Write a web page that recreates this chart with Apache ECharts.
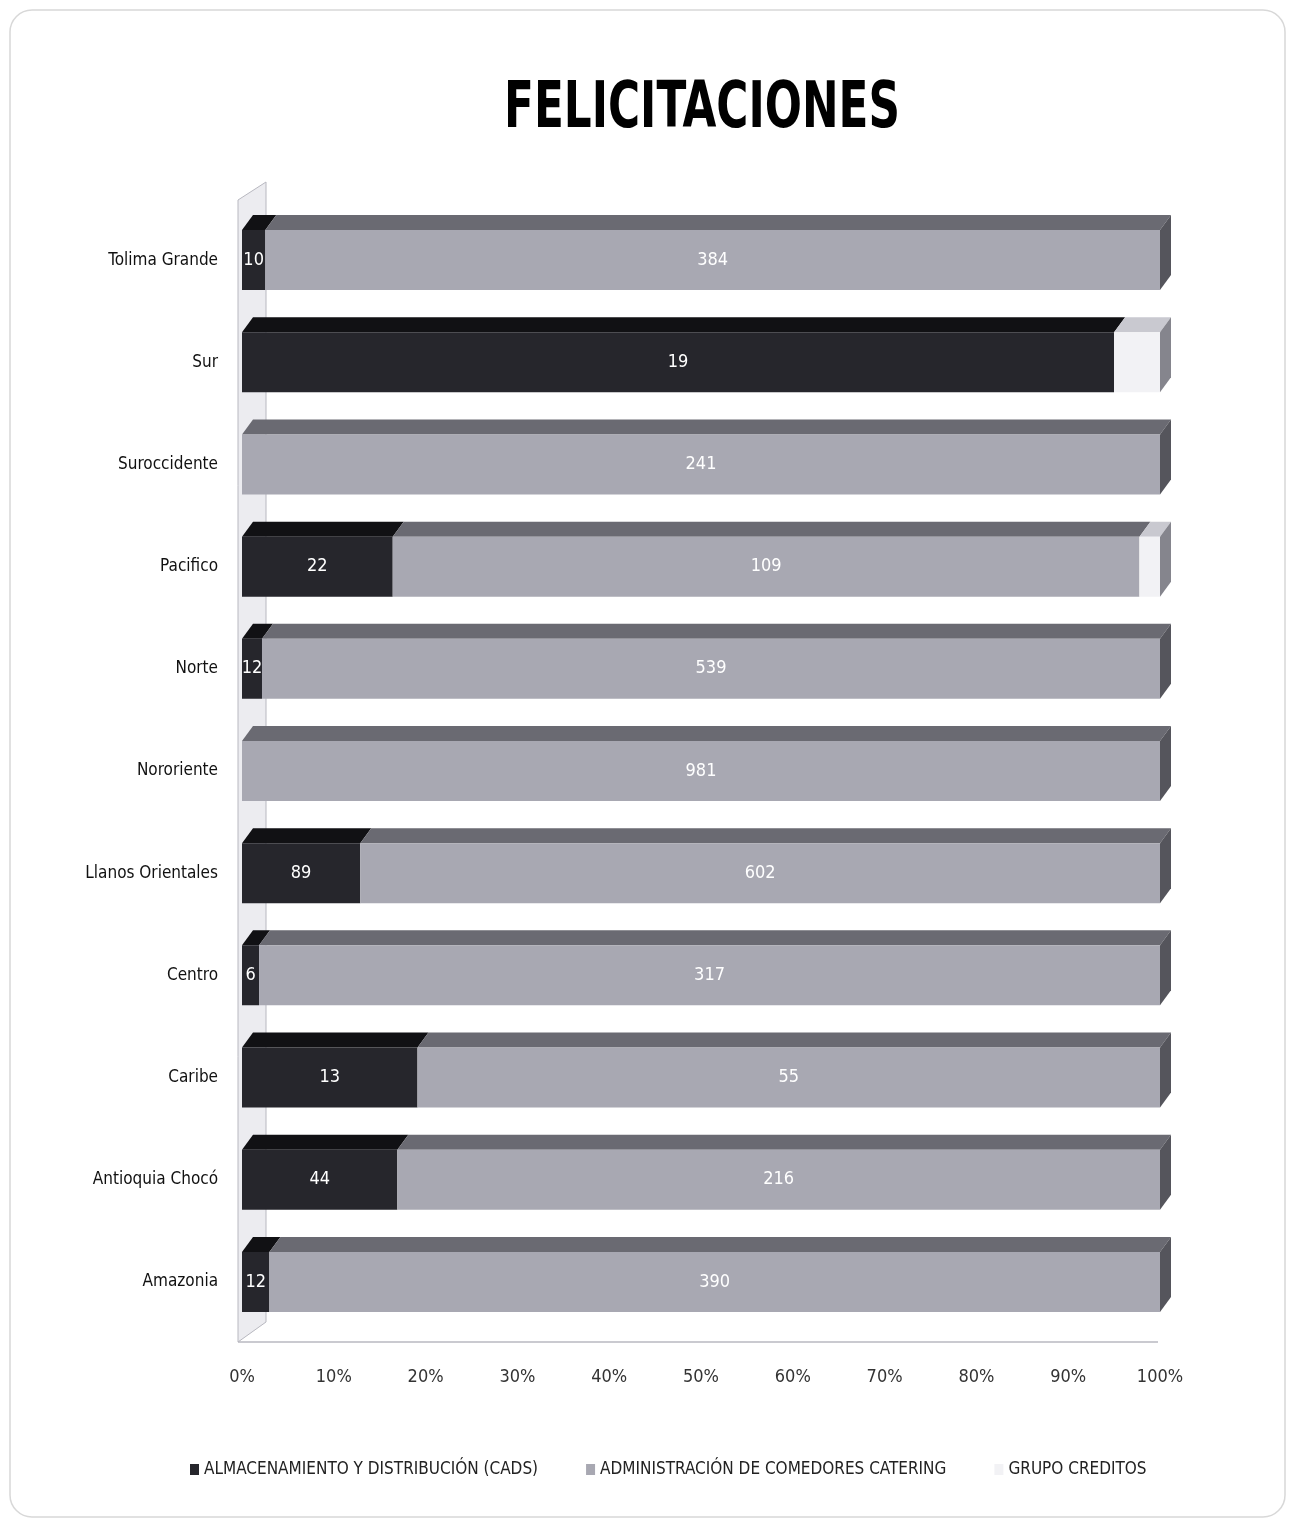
<!DOCTYPE html>
<html>
<head>
    <meta charset="utf-8">
    <title>Felicitaciones</title>
    <script src="https://cdn.jsdelivr.net/npm/echarts@6/dist/echarts.min.js"></script>
    <style>body{margin:0;background:#fff}</style>
</head>
<body>
    <div id="chart" style="width:1295px;height:1527px;"></div>
    <script type="text/javascript">
// datos
var categories = ['Tolima Grande', 'Sur', 'Suroccidente', 'Pacifico', 'Norte', 'Nororiente',
                  'Llanos Orientales', 'Centro', 'Caribe', 'Antioquia Chocó', 'Amazonia'];
var cads      = [10, 19, 0, 22, 12, 0, 89, 6, 13, 44, 12];
var catering  = [384, 0, 241, 109, 539, 981, 602, 317, 55, 216, 390];
var creditos  = [0, 1, 0, 3, 0, 0, 0, 0, 0, 0, 0];
var seriesNames = ['ALMACENAMIENTO Y DISTRIBUCIÓN (CADS)', 'ADMINISTRACIÓN DE COMEDORES CATERING', 'GRUPO CREDITOS'];
var tickLabels = ['0%', '10%', '20%', '30%', '40%', '50%', '60%', '70%', '80%', '90%', '100%'];

var raw = [cads, catering, creditos];
var front = ['#26262c', '#a8a8b2', '#f2f2f5'];
var topc  = ['#111114', '#6a6a72', '#c9c9d0'];
var sidec = ['#0c0c0e', '#55555c', '#85858d'];
var narrow = "'DejaVu Sans Condensed', 'Liberation Sans Narrow', sans-serif";

// porcentajes (100% apilado)
var pct = raw.map(function (arr) {
    return arr.map(function (v, i) {
        var t = cads[i] + catering[i] + creditos[i];
        return t ? v / t * 100 : 0;
    });
});

// caras superiores 3D: [categoria, inicio, fin, serie, ultimo]
var faces = [];
categories.forEach(function (c, i) {
    var acc = 0, lastIdx = -1;
    for (var s = 0; s < 3; s++) { if (pct[s][i] > 0) lastIdx = s; }
    for (var s = 0; s < 3; s++) {
        if (pct[s][i] <= 0) continue;
        faces.push([i, acc, acc + pct[s][i], s, s === lastIdx ? 1 : 0]);
        acc += pct[s][i];
    }
});

var chart = echarts.init(document.getElementById('chart'));

var barSeries = raw.map(function (arr, s) {
    return {
        name: seriesNames[s],
        type: 'bar',
        stack: 'total',
        barWidth: 60,
        data: pct[s],
        itemStyle: { color: front[s] },
        label: {
            show: s < 2,
            position: 'inside',
            color: '#fff',
            fontFamily: narrow,
            fontSize: 18,
            formatter: function (p) { return arr[p.dataIndex] ? arr[p.dataIndex] : ''; }
        }
    };
});

barSeries.push({
    type: 'custom',
    silent: true,
    data: faces,
    encode: { x: [1, 2], y: 0 },
    renderItem: function (params, api) {
        var cat = api.value(0);
        var p0 = api.coord([api.value(1), cat]);
        var p1 = api.coord([api.value(2), cat]);
        var s = api.value(3);
        var yt = p0[1] - 30, dx = 11, dy = 15;
        var children = [{
            type: 'polygon',
            shape: { points: [[p0[0], yt], [p0[0] + dx, yt - dy], [p1[0] + dx, yt - dy], [p1[0], yt]] },
            style: { fill: topc[s] }
        }];
        if (api.value(4)) {
            children.push({
                type: 'polygon',
                shape: { points: [[p1[0], yt], [p1[0] + dx, yt - dy], [p1[0] + dx, yt + 60 - dy], [p1[0], yt + 60]] },
                style: { fill: sidec[s] }
            });
        }
        return { type: 'group', children: children };
    },
    z: 1
});

var option = {
    backgroundColor: '#fff',
    graphic: [
        {
            type: 'rect',
            shape: { x: 10, y: 10, width: 1275, height: 1507, r: 22 },
            style: { fill: 'none', stroke: '#d8d8d8', lineWidth: 1.5 },
            z: -10
        },
        {
            type: 'text',
            x: 702, y: 110,
            scaleX: 0.76,
            style: {
                text: 'FELICITACIONES',
                font: "bold 64px 'DejaVu Sans Condensed', sans-serif",
                fill: '#000',
                align: 'center',
                verticalAlign: 'middle'
            }
        },
        {
            type: 'polygon',
            shape: { points: [[238, 200], [266, 182], [266, 1322], [238, 1342]] },
            style: { fill: '#ececf0', stroke: '#b8b8c0', lineWidth: 1 },
            z: -5
        },
        {
            type: 'line',
            shape: { x1: 238, y1: 1342, x2: 1158, y2: 1342 },
            style: { stroke: '#b8b8c0', lineWidth: 1.5 },
            z: -5
        }
    ],
    legend: {
        data: seriesNames,
        top: 1456,
        left: 185,
        itemWidth: 9,
        itemHeight: 11,
        itemGap: 48,
        icon: 'rect',
        textStyle: { fontFamily: narrow, fontSize: 17, color: '#222' }
    },
    grid: { left: 242, right: 135, top: 209, bottom: 194 },
    xAxis: {
        type: 'value',
        min: 0,
        max: 100,
        interval: 10,
        axisLine: { show: false },
        axisTick: { show: false },
        splitLine: { show: false },
        axisLabel: {
            margin: 35,
            fontFamily: narrow,
            fontSize: 18,
            color: '#333',
            formatter: function (v) { return tickLabels[Math.round(v / 10)]; }
        }
    },
    yAxis: {
        type: 'category',
        inverse: true,
        data: categories,
        axisLine: { show: false },
        axisTick: { show: false },
        axisLabel: {
            margin: 24,
            fontFamily: narrow,
            fontSize: 17,
            color: '#111'
        }
    },
    series: barSeries
};

chart.setOption(option);
    </script>
</body>
</html>
